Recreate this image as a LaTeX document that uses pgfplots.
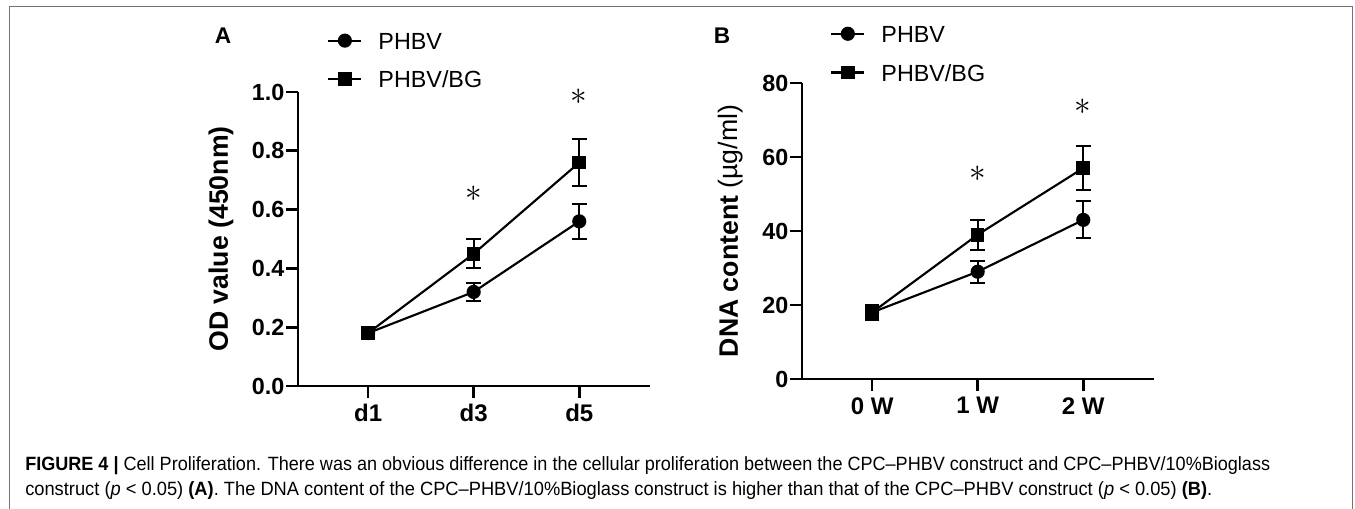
\documentclass[border=0pt]{standalone}
\usepackage{pgfplots}
\pgfplotsset{compat=1.18}
\usepackage{fontspec}
\setmainfont{Liberation Sans}

\pgfplotsset{
  panel/.style={
    scale only axis, width=264pt,
    axis lines=left, axis line style={line width=2pt,-},
    tick align=outside, major tick length=9pt,
    tick style={line width=2pt, black},
    xmin=0.336, xmax=3.67, xtick={1,2,3},
    xticklabel style={font=\fontsize{18}{18}\selectfont\bfseries, inner sep=4.5pt},
    yticklabel style={font=\fontsize{17.5}{17.5}\selectfont\bfseries, inner sep=1pt},
    ylabel style={font=\fontsize{20}{20}\selectfont, anchor=center},
    clip=false,
    legend cell align=left,
    legend image code/.code={\draw[mark repeat=2,mark phase=2] plot coordinates {(0pt,0pt)(12.4pt,0pt)(24.8pt,0pt)};},
    legend style={draw=none, fill=none, inner sep=0pt, anchor=west,
      font=\fontsize{17.5}{17.5}\selectfont, row sep=16pt,
      nodes={inner sep=0pt, text depth=0pt, text height=13pt},
      /tikz/every odd column/.append style={column sep=12pt}},
  },
  ser/.style={black, line width=1.6pt, mark options={solid, fill=black}},
  errs/.style={error bars/.cd, y dir=both, y explicit,
    error bar style={line width=1.5pt, black},
    error mark options={rotate=90, mark size=5.5pt, line width=1.5pt, black}},
}

\newsavebox\capA
\newsavebox\capB

\begin{document}
\sbox\capA{\fontsize{14.4}{17}\selectfont\textbf{FIGURE 4 |} Cell Proliferation. There was an obvious difference in the cellular proliferation between the CPC–PHBV construct and CPC–PHBV/10\%Bioglass}%
\sbox\capB{\fontsize{14.4}{17}\selectfont construct (\textit{p} < 0.05) \textbf{(A)}. The DNA content of the CPC–PHBV/10\%Bioglass construct is higher than that of the CPC–PHBV construct (\textit{p} < 0.05) \textbf{(B)}.}%
\pgfmathsetmacro\sxA{933.75/\wd\capA}%
\pgfmathsetmacro\sxB{890.25/\wd\capB}%
\begin{tikzpicture}[x=0.75pt,y=-0.75pt]
\useasboundingbox (0,0) rectangle (1355,509);
\coordinate (Ao) at (298,386);
\coordinate (Bo) at (802,379);

% panel A
\begin{axis}[panel, at={(Ao)}, anchor=south west, height=220.5pt,
  ymin=0, ymax=1.0, ytick={0,0.2,0.4,0.6,0.8,1.0},
  yticklabels={0.0,0.2,0.4,0.6,0.8,1.0},
  xticklabels={d1,d3,d5},
  ylabel={\bfseries OD value (450nm)},
  ylabel style={at={(axis description cs:-0.219,0.5)}},
  legend style={at={(axis description cs:0.0824,1.109)}}]
\addplot[ser, mark=*, mark size=4.5pt, errs] coordinates {
  (1,0.18) +- (0,0.012)
  (2,0.32) +- (0,0.03)
  (3,0.56) +- (0,0.06)
};
\addlegendentry{PHBV}
\addplot[ser, mark=square*, mark size=4.3pt, errs] coordinates {
  (1,0.18) +- (0,0.012)
  (2,0.45) +- (0,0.05)
  (3,0.76) +- (0,0.08)
};
\addlegendentry{PHBV/BG}
\node[font=\fontsize{28}{28}\selectfont] at (axis cs:2,0.655) {$\ast$};
\node[font=\fontsize{28}{28}\selectfont] at (axis cs:3,0.985) {$\ast$};
\end{axis}

% panel B
\begin{axis}[panel, at={(Bo)}, anchor=south west, height=222pt,
  ymin=0, ymax=80, ytick={0,20,40,60,80},
  yticklabels={0,20,40,60,80},
  xticklabels={0 W,1 W,2 W},
  ylabel={\bfseries DNA content \mdseries(µg/ml)},
  ylabel style={at={(axis description cs:-0.202,0.5)}},
  legend style={at={(axis description cs:0.0795,1.101)}}]
\addplot[ser, mark=*, mark size=4.5pt, errs] coordinates {
  (1,18) +- (0,2)
  (2,29) +- (0,3)
  (3,43) +- (0,5)
};
\addlegendentry{PHBV}
\addplot[ser, mark=square*, mark size=4.3pt, errs] coordinates {
  (1,18) +- (0,2)
  (2,39) +- (0,4)
  (3,57) +- (0,6)
};
\addlegendentry{PHBV/BG}
\node[font=\fontsize{28}{28}\selectfont] at (axis cs:2,55.5) {$\ast$};
\node[font=\fontsize{28}{28}\selectfont] at (axis cs:3,73.5) {$\ast$};
\end{axis}

% panel letters
\node[font=\fontsize{17}{17}\selectfont\bfseries] at (223,36) {A};
\node[font=\fontsize{17}{17}\selectfont\bfseries] at (722,36) {B};

% frame
\draw[line width=1.1pt, black!55] (9.5,509) -- (9.5,6.5) -- (1352.5,6.5) -- (1352.5,509);

% caption
\node[anchor=base west, inner sep=0pt] at (25,470) {\scalebox{\sxA}[1]{\usebox\capA}};
\node[anchor=base west, inner sep=0pt] at (25,495) {\scalebox{\sxB}[1]{\usebox\capB}};
\end{tikzpicture}
\end{document}
